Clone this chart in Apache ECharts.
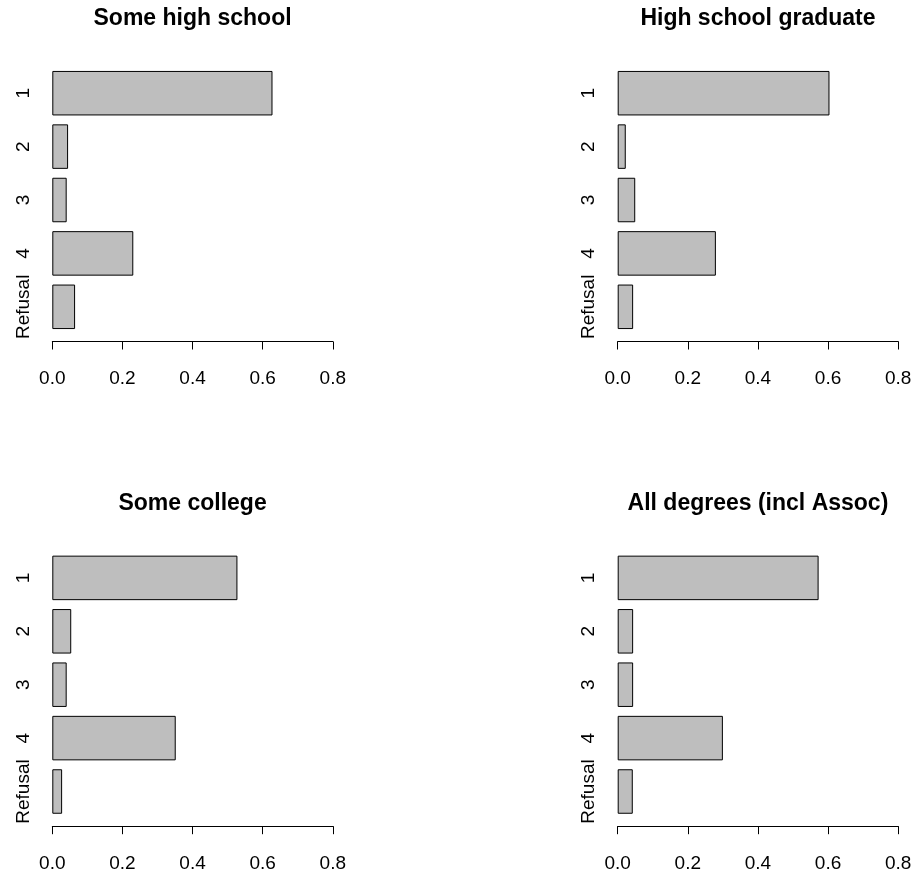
<!DOCTYPE html>
<html>
<head>
<meta charset="utf-8">
<script src="https://cdn.jsdelivr.net/npm/echarts@6/dist/echarts.min.js"></script>
<style>
html,body{margin:0;padding:0;background:#fff;}
#chart{width:915px;height:874px;}
</style>
</head>
<body>
<div id="chart"></div>
<script>
const categories = ['1', '2', '3', '4', 'Refusal'];
const panelTitles = ['Some high school', 'High school graduate', 'Some college', 'All degrees (incl Assoc)'];
const someHighSchool = [0.628, 0.045, 0.041, 0.231, 0.065];
const highSchoolGraduate = [0.604, 0.023, 0.050, 0.280, 0.044];
const someCollege = [0.528, 0.054, 0.041, 0.352, 0.028];
const allDegrees = [0.573, 0.044, 0.044, 0.300, 0.043];
const xMin = 0, xMax = 0.8, xStep = 0.2;

const panelData = [someHighSchool, highSchoolGraduate, someCollege, allDegrees];
const FONT = "'Liberation Sans', Arial, Helvetica, sans-serif";

const lefts = [52.3, 617.7];
const tops = [66.5, 551.2];
const gridW = 280.5, gridH = 267;

const grids = [], xAxes = [], yAxes = [], series = [], titles = [];
panelData.forEach((vals, i) => {
  const col = i % 2, row = Math.floor(i / 2);
  grids.push({left: lefts[col], top: tops[row], width: gridW, height: gridH, containLabel: false});
  xAxes.push({
    type: 'value', gridIndex: i, min: xMin, max: xMax, interval: xStep,
    offset: 8,
    axisLine: {show: true, lineStyle: {color: '#000', width: 1}},
    axisTick: {show: true, length: 8, lineStyle: {color: '#000', width: 1}},
    splitLine: {show: false},
    axisLabel: {color: '#000', fontSize: 19, fontFamily: FONT, margin: 28,
      formatter: v => v.toFixed(1)}
  });
  yAxes.push({
    type: 'category', gridIndex: i, data: categories, inverse: true,
    axisLine: {show: false}, axisTick: {show: false}, splitLine: {show: false},
    axisLabel: {color: '#000', fontSize: 19, fontFamily: FONT, rotate: 90, margin: 19, interval: 0}
  });
  series.push({
    type: 'bar', xAxisIndex: i, yAxisIndex: i, data: vals, barWidth: 44.5,
    itemStyle: {color: '#BEBEBE', borderColor: '#000', borderWidth: 1},
    emphasis: {disabled: true}, silent: true
  });
  titles.push({
    text: panelTitles[i], left: lefts[col] + gridW / 2, top: tops[row] - 59,
    textAlign: 'center', padding: 0,
    textStyle: {fontSize: 23, fontWeight: 'bold', fontFamily: FONT, color: '#000'}
  });
});

const chart = echarts.init(document.getElementById('chart'), null, {renderer: 'canvas'});
chart.setOption({
  animation: false,
  backgroundColor: '#fff',
  title: titles,
  grid: grids,
  xAxis: xAxes,
  yAxis: yAxes,
  series: series
});
</script>
</body>
</html>
